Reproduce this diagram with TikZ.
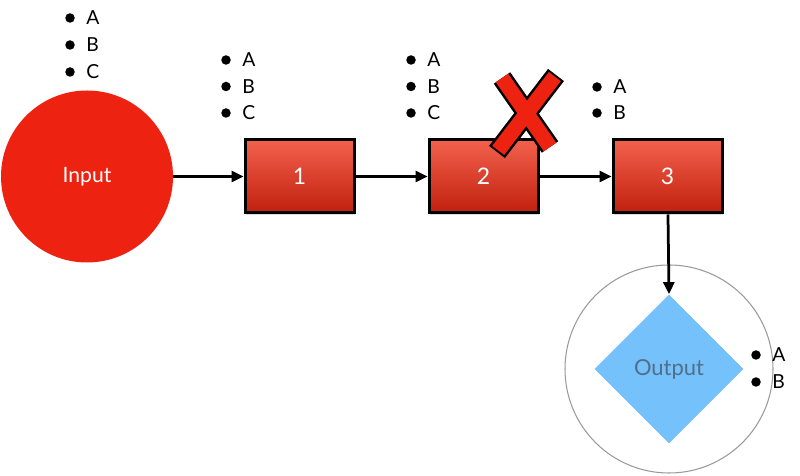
\documentclass[tikz,border=0pt]{standalone}
\usepackage{fontspec}
\setmainfont{Lato}
\usetikzlibrary{positioning, arrows.meta, shapes.geometric, shadows}
\definecolor{inputRed}{HTML}{EE2211}
\definecolor{boxTop}{HTML}{F2614C}
\definecolor{boxBottom}{HTML}{C1200E}
\definecolor{outBlue}{HTML}{75C1FB}
\definecolor{outText}{HTML}{4F6F8A}
\definecolor{ringGray}{HTML}{9A9A9A}

\begin{document}
\begin{tikzpicture}[
    ->,>={Triangle[length=0.24cm,width=0.22cm]},
    node distance=1.44cm,
    every edge/.style={draw=black, line width=0.055cm},
    source/.style={circle, fill=inputRed, minimum size=3.44cm, inner sep=0, text=white, font=\fontsize{12}{14}\selectfont},
    stage/.style={rectangle, draw=black, line width=0.06cm, top color=boxTop, bottom color=boxBottom,
        minimum width=2.18cm, minimum height=1.46cm, inner sep=0, text=white, font=\fontsize{13}{15}\selectfont,
        drop shadow={opacity=0.25, shadow xshift=0.02cm, shadow yshift=-0.05cm}},
    sink/.style={diamond, fill=outBlue, minimum width=2.98cm, minimum height=2.98cm, inner sep=0, text=outText, font=\fontsize{12.5}{14}\selectfont},
    ring/.style={circle, draw=ringGray, line width=0.6pt, minimum size=4.16cm, inner sep=0},
    item/.style={anchor=west, inner sep=0, font=\fontsize{11}{13}\selectfont}
]
    \useasboundingbox (0,0) rectangle (16,9.5);

    \node[source] (In) at (1.74,5.97) {Input};
    \node[stage] (B1) at (5.99,5.97) {1};
    \node[stage, right=of B1] (B2) {2};
    \node[stage, right=of B2] (B3) {3};
    \node[ring] (Ring) at (13.38,2.12) {};
    \node[sink] (Out) at (13.38,2.12) {Output};

    % what each step still carries
    \foreach \t [count=\i] in {A,B,C} {
        \node[item] (in\t) at (1.72,{9.14-0.54*(\i-1)}) {\t};
        \fill (in\t.west) ++(-0.32,0) circle (0.095);
        \node[item] (one\t) at (4.84,{8.30-0.53*(\i-1)}) {\t};
        \fill (one\t.west) ++(-0.32,0) circle (0.095);
        \node[item] (two\t) at (8.54,{8.30-0.53*(\i-1)}) {\t};
        \fill (two\t.west) ++(-0.32,0) circle (0.095);
    }
    \foreach \t [count=\i] in {A,B} {
        \node[item] (three\t) at (12.26,{7.76-0.52*(\i-1)}) {\t};
        \fill (three\t.west) ++(-0.32,0) circle (0.095);
        \node[item] (out\t) at (15.44,{2.40-0.54*(\i-1)}) {\t};
        \fill (out\t.west) ++(-0.32,0) circle (0.095);
    }

    \path[line width=0.055cm]
          (In) edge (B1)
          (B1) edge (B2)
          (B2) edge (B3)
          (B3) edge (Out.north);

    % cross over step 2
    \draw[-, line width=0.40cm, black] (10.04,7.94) -- (11.00,6.56) (11.12,8.00) -- (9.94,6.46);
    \draw[-, line width=0.30cm, inputRed, shorten <=0.04cm, shorten >=0.04cm] (10.04,7.94) -- (11.00,6.56) (11.12,8.00) -- (9.94,6.46);
\end{tikzpicture}
\end{document}
